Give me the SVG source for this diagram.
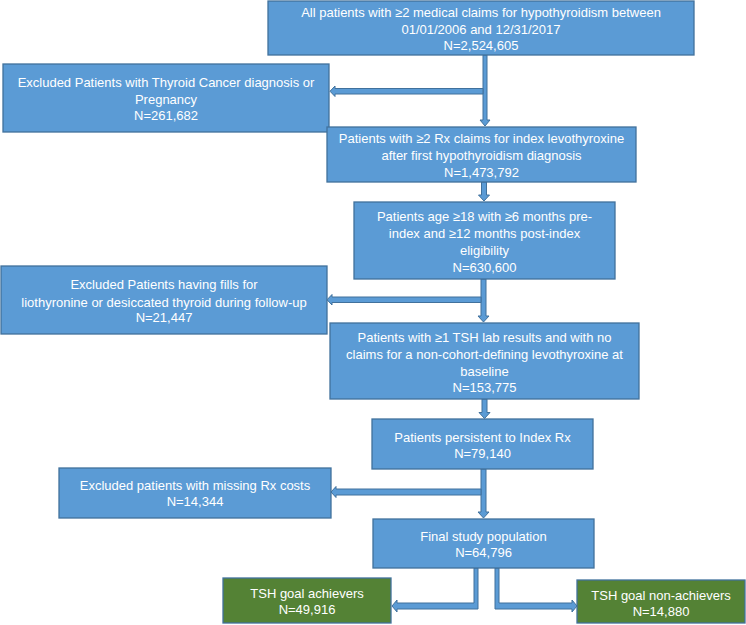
<svg xmlns="http://www.w3.org/2000/svg" width="746" height="625" viewBox="0 0 746 625">
<style>
.b{fill:#5B9BD5;stroke:#41719C;stroke-width:1.3}
.g{fill:#548235;stroke:#41719C;stroke-width:1.3}
.a{fill:#5B9BD5;stroke:#41719C;stroke-width:1;stroke-linejoin:miter}
text{font-family:"Liberation Sans",Arial,sans-serif;font-size:13px;fill:#FFFFFF;text-anchor:middle}
</style>
<rect width="746" height="625" fill="#FFFFFF"/>
<g id="connectors">
<polygon class="a" points="483,55 487,55 487,120 490,120 485,126 480,120 483,120"/>
<polygon class="a" points="483,88.5 335,88.5 335,86 330,91.25 335,96.5 335,94 483,94"/>
<polygon class="a" points="481.5,182 486.5,182 486.5,195 489.5,195 484,201 478.5,195 481.5,195"/>
<polygon class="a" points="481,279 486,279 486,316 489,316 483.5,322 478,316 481,316"/>
<polygon class="a" points="481,297 332,297 332,294.5 327,299.75 332,305 332,302.5 481,302.5"/>
<polygon class="a" points="482,399 487,399 487,412.5 490,412.5 484.5,418.5 479,412.5 482,412.5"/>
<polygon class="a" points="481,469 486,469 486,512 489,512 483.5,518 478,512 481,512"/>
<polygon class="a" points="481,489 336,489 336,486.5 331,492 336,497.5 336,495 481,495"/>
<polygon class="a" points="474,568 478,568 478,609 397,609 397,612 392,606 397,600 397,603 474,603"/>
<polygon class="a" points="495,568 499,568 499,603 572,603 572,600 577,606 572,612 572,609 495,609"/>
</g>
<g id="n1">
<rect class="b" x="268" y="1" width="426" height="54"/>
<text x="481" y="17">All patients with ≥2 medical claims for hypothyroidism between</text>
<text x="481" y="34">01/01/2006 and 12/31/2017</text>
<text x="481" y="50">N=2,524,605</text>
</g>
<g id="n2">
<rect class="b" x="3" y="64" width="326" height="68"/>
<text x="166" y="86.5">Excluded Patients with Thyroid Cancer diagnosis or</text>
<text x="166" y="104">Pregnancy</text>
<text x="166" y="120">N=261,682</text>
</g>
<g id="n3">
<rect class="b" x="327" y="127" width="309" height="55"/>
<text x="481.5" y="143">Patients with ≥2 Rx claims for index levothyroxine</text>
<text x="481.5" y="160">after first hypothyroidism diagnosis</text>
<text x="481.5" y="177">N=1,473,792</text>
</g>
<g id="n4">
<rect class="b" x="354" y="202" width="261" height="77"/>
<text x="484.5" y="221">Patients age ≥18 with ≥6 months pre-</text>
<text x="484.5" y="238">index and ≥12 months post-index</text>
<text x="484.5" y="255">eligibility</text>
<text x="484.5" y="271.5">N=630,600</text>
</g>
<g id="n5">
<rect class="b" x="1" y="266" width="326" height="68"/>
<text x="164" y="289">Excluded Patients having fills for</text>
<text x="164" y="306.5">liothyronine or desiccated thyroid during follow-up</text>
<text x="164" y="322">N=21,447</text>
</g>
<g id="n6">
<rect class="b" x="330" y="323" width="309" height="76"/>
<text x="484.5" y="341.5">Patients with ≥1 TSH lab results and with no</text>
<text x="484.5" y="358.5">claims for a non-cohort-defining levothyroxine at</text>
<text x="484.5" y="375.5">baseline</text>
<text x="484.5" y="392">N=153,775</text>
</g>
<g id="n7">
<rect class="b" x="372" y="419" width="221" height="50"/>
<text x="482.5" y="441.5">Patients persistent to Index Rx</text>
<text x="482.5" y="458">N=79,140</text>
</g>
<g id="n8">
<rect class="b" x="59" y="468" width="272" height="50"/>
<text x="195" y="490">Excluded patients with missing Rx costs</text>
<text x="195" y="506">N=14,344</text>
</g>
<g id="n9">
<rect class="b" x="373" y="519" width="221" height="49"/>
<text x="483.5" y="540.5">Final study population</text>
<text x="483.5" y="557">N=64,796</text>
</g>
<g id="n10">
<rect class="g" x="223" y="578" width="168" height="45"/>
<text x="307" y="598">TSH goal achievers</text>
<text x="307" y="614">N=49,916</text>
</g>
<g id="n11">
<rect class="g" x="577" y="580" width="168" height="43"/>
<text x="661" y="600">TSH goal non-achievers</text>
<text x="661" y="616">N=14,880</text>
</g>
</svg>
